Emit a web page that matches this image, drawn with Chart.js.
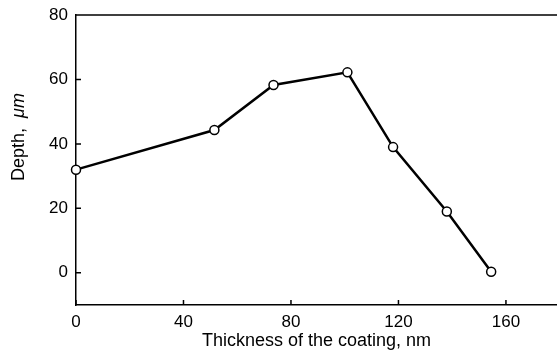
<!DOCTYPE html>
<html>
<head>
<meta charset="utf-8">
<script src="https://cdn.jsdelivr.net/npm/chart.js@4/dist/chart.umd.min.js"></script>
<style>
  html, body { margin: 0; padding: 0; background: #fff; overflow: hidden; }
  #wrap { width: 557px; height: 360px; }
</style>
</head>
<body>
<div id="wrap"><canvas id="chart" width="557" height="360"></canvas></div>
<script>
const thickness = [0, 51.5, 73.5, 101, 118, 138, 154.5];
const depth = [32, 44.3, 58.3, 62.2, 39, 19, 0.3];
const xTicks = [0, 40, 80, 120, 160];
const yTicks = [0, 20, 40, 60, 80];
const xTitle = 'Thickness of the coating, nm';
const yTitleMain = 'Depth,  ';
const yTitleUnit = 'μm';

const FONT = "'Liberation Sans', Arial, sans-serif";

// frame top line, inward tick marks and the y title (normal + italic unit)
const framePlugin = {
  id: 'frame',
  beforeDatasetsDraw(chart) {
    const { ctx, chartArea: a, scales } = chart;
    ctx.save();
    ctx.strokeStyle = '#000';
    ctx.lineWidth = 1.5;
    ctx.beginPath();
    ctx.moveTo(a.left, a.top);
    ctx.lineTo(a.right, a.top);
    xTicks.forEach((v) => {
      const px = scales.x.getPixelForValue(v);
      ctx.moveTo(px, a.bottom);
      ctx.lineTo(px, a.bottom - 5);
    });
    yTicks.forEach((v) => {
      const py = scales.y.getPixelForValue(v);
      ctx.moveTo(a.left, py);
      ctx.lineTo(a.left + 5, py);
    });
    ctx.stroke();

    // y title
    ctx.translate(19, 137);
    ctx.rotate(-Math.PI / 2);
    ctx.fillStyle = '#000';
    ctx.textBaseline = 'middle';
    ctx.font = '18px ' + FONT;
    const w1 = ctx.measureText(yTitleMain).width;
    ctx.font = 'italic 18px ' + FONT;
    const w2 = ctx.measureText(yTitleUnit).width;
    const x0 = -(w1 + w2) / 2;
    ctx.font = '18px ' + FONT;
    ctx.textAlign = 'left';
    ctx.fillText(yTitleMain, x0, 0);
    ctx.font = 'italic 18px ' + FONT;
    ctx.fillText(yTitleUnit, x0 + w1, 0);
    ctx.restore();
  },
};

new Chart(document.getElementById('chart'), {
  type: 'line',
  data: {
    datasets: [
      {
        data: thickness.map((t, i) => ({ x: t, y: depth[i] })),
        borderColor: '#000',
        borderWidth: 2.5,
        pointRadius: 4.5,
        pointBackgroundColor: '#fff',
        pointBorderColor: '#000',
        pointBorderWidth: 1.5,
        tension: 0,
        clip: false,
      },
    ],
  },
  plugins: [framePlugin],
  options: {
    responsive: false,
    animation: false,
    layout: { autoPadding: false, padding: { left: 0, right: 0, top: 15, bottom: 0 } },
    plugins: { legend: { display: false }, tooltip: { enabled: false } },
    scales: {
      x: {
        type: 'linear',
        min: 0,
        max: 179,
        afterBuildTicks: (axis) => {
          axis.ticks = xTicks.map((v) => ({ value: v }));
        },
        afterFit: (scale) => {
          scale.height = 55;
          scale.paddingLeft = 0;
          scale.paddingRight = 0;
        },
        grid: { drawOnChartArea: false, drawTicks: false },
        border: { color: '#000', width: 1.5 },
        ticks: { color: '#000', padding: 7, font: { family: FONT, size: 17 } },
        title: {
          display: true,
          text: xTitle,
          color: '#000',
          padding: { top: 0, bottom: 8 },
          font: { family: FONT, size: 18 },
        },
      },
      y: {
        min: -10,
        max: 80,
        afterBuildTicks: (axis) => {
          axis.ticks = yTicks.map((v) => ({ value: v }));
        },
        afterFit: (scale) => {
          scale.width = 76;
          scale.paddingTop = 0;
          scale.paddingBottom = 0;
        },
        grid: { drawOnChartArea: false, drawTicks: false },
        border: { color: '#000', width: 1.5 },
        ticks: { color: '#000', padding: 8, font: { family: FONT, size: 17 } },
      },
    },
  },
});
</script>
</body>
</html>
